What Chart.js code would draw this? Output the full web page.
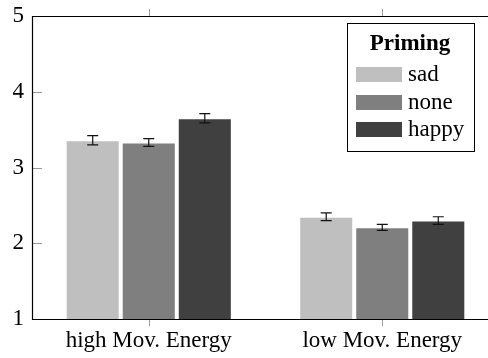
<!DOCTYPE html>
<html>
<head>
<meta charset="utf-8">
<script src="https://cdn.jsdelivr.net/npm/chart.js@4/dist/chart.umd.min.js"></script>
<style>
  html, body { margin: 0; padding: 0; background: #fff; overflow: hidden; }
  canvas { display: block; }
</style>
</head>
<body>
<canvas id="c" width="488" height="358"></canvas>
<script>
// ---- data ----
const categories = ['high Mov. Energy', 'low Mov. Energy'];
const seriesNames = ['sad', 'none', 'happy'];
const sadValues = [3.36, 2.35];
const noneValues = [3.33, 2.21];
const happyValues = [3.65, 2.30];
const sadErrors = [0.06, 0.05];
const noneErrors = [0.05, 0.04];
const happyErrors = [0.06, 0.05];
const yTicks = [1, 2, 3, 4, 5];
const legendTitle = 'Priming';

const seriesValues = [sadValues, noneValues, happyValues];
const seriesErrors = [sadErrors, noneErrors, happyErrors];
const seriesColors = ['#bfbfbf', '#7f7f7f', '#404040'];
const FONT = "'Liberation Serif', 'DejaVu Serif', serif";

const datasets = seriesNames.map((name, i) => ({
  label: name,
  data: seriesValues[i],
  errors: seriesErrors[i],
  backgroundColor: seriesColors[i],
  borderColor: '#ffffff',
  borderWidth: { left: 2, right: 2, top: 1, bottom: 0 },
  borderSkipped: false,
  categoryPercentage: 0.72,
  barPercentage: 1.0
}));

// the plot area in the original runs past the right edge of the picture
const extendPlugin = {
  id: 'extend',
  afterLayout(chart) {
    const extra = 11;
    const x = chart.scales.x;
    x.right += extra;
    x.width += extra;
    x.configure();
    chart.chartArea.right += extra;
    chart.chartArea.width += extra;
  }
};

const framePlugin = {
  id: 'frame',
  afterDatasetsDraw(chart) {
    const ctx = chart.ctx;
    const a = chart.chartArea;
    const x = chart.scales.x, y = chart.scales.y;
    ctx.save();
    chart.data.datasets.forEach((ds, di) => {
      const meta = chart.getDatasetMeta(di);
      meta.data.forEach((bar, j) => {
        const v = ds.data[j], e = ds.errors[j];
        const yt = y.getPixelForValue(v + e), yb = y.getPixelForValue(v - e);
        ctx.strokeStyle = '#111';
        ctx.lineWidth = 1.2;
        ctx.beginPath();
        ctx.moveTo(bar.x, yt); ctx.lineTo(bar.x, yb);
        ctx.moveTo(bar.x - 5.5, yt); ctx.lineTo(bar.x + 5.5, yt);
        ctx.moveTo(bar.x - 5.5, yb); ctx.lineTo(bar.x + 5.5, yb);
        ctx.stroke();
      });
    });
    ctx.strokeStyle = '#9a9a9a';
    ctx.lineWidth = 1;
    ctx.beginPath();
    yTicks.forEach(t => {
      const py = Math.round(y.getPixelForValue(t)) + 0.5;
      ctx.moveTo(a.left, py); ctx.lineTo(a.left + 10, py);
    });
    categories.forEach((c, i) => {
      const px = Math.round(x.getPixelForValue(i)) + 0.5;
      ctx.moveTo(px, a.top - 7); ctx.lineTo(px, a.top);
      ctx.moveTo(px, a.bottom); ctx.lineTo(px, a.bottom + 7);
    });
    ctx.stroke();
    ctx.strokeStyle = '#000';
    ctx.lineWidth = 1.2;
    ctx.beginPath();
    const L = Math.round(a.left) + 0.5, R = Math.round(a.right) + 0.5;
    const T = Math.round(a.top) + 0.5, B = Math.round(a.bottom) + 0.5;
    ctx.moveTo(R, T); ctx.lineTo(L, T); ctx.lineTo(L, B); ctx.lineTo(R, B);
    ctx.stroke();
    ctx.restore();
  },
  afterDraw(chart) {
    const ctx = chart.ctx;
    ctx.save();
    const bx = 347.5, by = 23.5, bw = 127, bh = 128;
    ctx.fillStyle = '#fff';
    ctx.fillRect(bx, by, bw, bh);
    ctx.strokeStyle = '#000';
    ctx.lineWidth = 1;
    ctx.strokeRect(bx, by, bw, bh);
    ctx.fillStyle = '#000';
    ctx.font = 'bold 23px ' + FONT;
    ctx.textAlign = 'center';
    ctx.textBaseline = 'alphabetic';
    ctx.fillText(legendTitle, bx + bw / 2 - 1, 50);
    ctx.font = '23px ' + FONT;
    ctx.textAlign = 'left';
    const tops = [67, 95, 122];
    chart.data.datasets.forEach((ds, i) => {
      ctx.fillStyle = ds.backgroundColor;
      ctx.fillRect(356, tops[i], 46, 15);
      ctx.fillStyle = '#000';
      ctx.fillText(ds.label, 408, tops[i] + 14);
    });
    ctx.restore();
  }
};

function build() {
  new Chart(document.getElementById('c'), {
    type: 'bar',
    data: { labels: categories, datasets },
    options: {
      responsive: false,
      animation: false,
      devicePixelRatio: 1,
      layout: { padding: { top: 16, right: 0, left: 0, bottom: 0 } },
      plugins: { legend: { display: false }, tooltip: { enabled: false } },
      scales: {
        x: {
          grid: { display: false, drawTicks: false },
          border: { display: false },
          ticks: { color: '#000', font: { family: FONT, size: 23 }, padding: 8, maxRotation: 0 },
          afterFit(s) { s.height = 39; s.paddingLeft = 0; s.paddingRight = 0; }
        },
        y: {
          min: 1, max: 5,
          afterBuildTicks(s) { s.ticks = yTicks.map(v => ({ value: v })); },
          grid: { display: false, drawTicks: false },
          border: { display: false },
          ticks: { color: '#000', font: { family: FONT, size: 23 }, padding: 8 },
          afterFit(s) { s.width = 32; s.paddingTop = 0; s.paddingBottom = 0; }
        }
      }
    },
    plugins: [extendPlugin, framePlugin]
  });
}
Promise.all([
  document.fonts.load("23px 'Liberation Serif'"),
  document.fonts.load("bold 23px 'Liberation Serif'")
]).then(build, build);
</script>
</body>
</html>
